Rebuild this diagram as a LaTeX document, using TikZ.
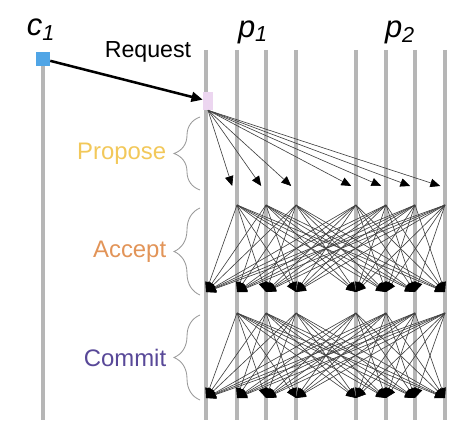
\documentclass[tikz,border=0pt]{standalone}
\usepackage{fontspec}
\setmainfont{Liberation Sans}
\usepackage{xcolor}
\usetikzlibrary{arrows.meta,decorations.pathreplacing}

\definecolor{lanegray}{RGB}{182,182,182}
\definecolor{reqblue}{RGB}{80,165,230}
\definecolor{reqpink}{RGB}{236,214,240}
\definecolor{propcol}{RGB}{242,200,90}
\definecolor{acccol}{RGB}{226,148,88}
\definecolor{comcol}{RGB}{88,72,152}

\tikzset{
  lane/.style={draw=lanegray,line width=2.8pt},
  msg/.style={draw=black!75,line width=0.45pt,-{Triangle[length=7pt,width=6pt,color=black]}},
  phase/.style={decorate,decoration={brace,amplitude=0.65cm},draw=gray!80,line width=0.6pt},
  phaselabel/.style={font=\fontsize{17}{20}\selectfont,left=0.8cm,inner sep=1pt},
  proc/.style={font=\fontsize{22}{26}\selectfont\itshape}
}

\begin{document}
\begin{tikzpicture}
\useasboundingbox (0,0) rectangle (11.6,-10.975);

% client
\coordinate (ctop) at (1.075,-1.475);
\coordinate (cbot) at (1.075,-10.5);
\draw[lane] (ctop) -- (cbot);
\node[fill=reqblue,minimum size=0.35cm,inner sep=0] (csq) at (ctop) {};
\node[proc] (c1) at (1.025,-0.75) {c\textsubscript{1}};

% replicas
\foreach \x [count=\i] in {5.15,5.925,6.65,7.4,8.9,9.65,10.375,11.125} {
  \coordinate (top\i) at (\x,-1.25);
  \coordinate (bot\i) at (\x,-10.5);
  \draw[lane] (top\i) -- (bot\i);
  \coordinate (prop\i) at (\x-0.12,-4.65);
  \coordinate (accs\i) at (\x,-5.125);
  \coordinate (accd\i) at (\x,-7.3);
  \coordinate (coms\i) at (\x,-7.825);
  \coordinate (comd\i) at (\x,-9.95);
}
\node[proc] (p1) at (6.325,-0.8) {p\textsubscript{1}};
\node[proc] (p2) at (10,-0.8) {p\textsubscript{2}};

% request
\node[fill=reqpink,minimum width=0.25cm,minimum height=0.45cm,inner sep=0] (pk) at (5.2,-2.525) {};
\node[font=\fontsize{16.5}{18}\selectfont] (req) at (3.7,-1.3) {Request};
\draw[line width=1.8pt,-{Triangle[length=8pt,width=7pt]}] (csq) -- (pk);

% propose
\foreach \j in {2,...,8}
  \draw[msg] (pk.south) -- (prop\j);

% accept, commit
\foreach \s in {2,...,8} {
  \foreach \d in {1,...,8} {
    \ifnum\s=\d\relax\else
      \draw[msg] (accs\s) -- (accd\d);
      \draw[msg] (coms\s) -- (comd\d);
    \fi
  }
}

% phases
\draw[phase] (5,-4.75) -- (5,-2.925) node[midway,phaselabel,text=propcol] (lprop) {Propose};
\draw[phase] (5,-7.375) -- (5,-5.2) node[midway,phaselabel,text=acccol] (lacc) {Accept};
\draw[phase] (5,-10) -- (5,-7.875) node[midway,phaselabel,text=comcol] (lcom) {Commit};
\end{tikzpicture}
\end{document}
